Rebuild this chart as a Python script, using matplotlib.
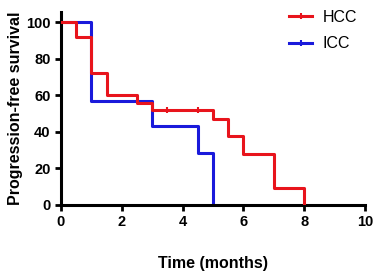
import matplotlib
matplotlib.use("Agg")
import matplotlib.pyplot as plt
from matplotlib.lines import Line2D

# Kaplan-Meier steps (time in months, survival %)
hcc_t = [0, 0.5, 1.0, 1.5, 2.5, 3.0, 5.0, 5.5, 6.0, 7.0, 8.0]
hcc_s = [100, 92, 72, 60, 56, 52, 47, 37.5, 28, 9.5, 0]
hcc_cens_t = [3.5, 4.5]
hcc_cens_s = [52, 52]

icc_t = [0, 1.0, 3.0, 4.5, 5.0]
icc_s = [100, 57, 43, 28.5, 0]

plt.rcParams['font.family'] = ['Liberation Sans', 'DejaVu Sans']

fig = plt.figure(figsize=(3.75, 2.74), dpi=100)
ax = fig.add_axes([61 / 375, 1 - 205 / 274, 304 / 375, 193 / 274])

ax.step(hcc_t, hcc_s, where='post', color='#e8141c', lw=2.2, zorder=3)
ax.plot(hcc_cens_t, hcc_cens_s, ls='none', marker='|', ms=4, mew=1.5,
        color='#e8141c', zorder=3)
ax.step(icc_t, icc_s, where='post', color='#1a1adb', lw=2.2, zorder=2)

ax.set_xlim(0, 10)
ax.set_ylim(0, 105.5)
ax.set_xticks([0, 2, 4, 6, 8, 10])
ax.set_yticks([0, 20, 40, 60, 80, 100])
ax.spines['top'].set_visible(False)
ax.spines['right'].set_visible(False)
for s in ('left', 'bottom'):
    ax.spines[s].set_linewidth(2.2)
ax.tick_params(width=2, length=4, labelsize=10.5)
for lab in ax.get_xticklabels() + ax.get_yticklabels():
    lab.set_fontweight('bold')

ax.set_xlabel("Time (months)", fontsize=11.5, fontweight='bold', labelpad=19)
ax.set_ylabel("Progression-free survival", fontsize=11.5, fontweight='bold',
              labelpad=2)

handles = [
    Line2D([], [], color='#e8141c', lw=2.2, marker='|', ms=4, mew=1.5),
    Line2D([], [], color='#1a1adb', lw=2.2, marker='|', ms=4, mew=1.5),
]
fig.legend(handles, ['HCC', 'ICC'], loc='upper left',
           bbox_to_anchor=(289 / 375, 1 - 10 / 274), frameon=False,
           fontsize=11.5, handlelength=1.45, handletextpad=0.65,
           labelspacing=0.7, borderpad=0, borderaxespad=0)

fig.savefig("out.png", dpi=100)
